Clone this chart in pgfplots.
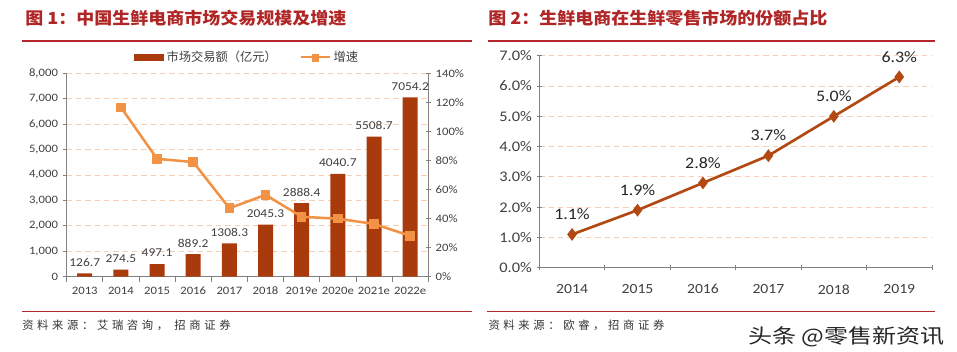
\documentclass[border=0pt]{standalone}
\usepackage{pgfplots}
\pgfplotsset{compat=1.18}
\usepackage{fontspec}
\setmainfont[FakeStretch=1.12]{Carlito}
\newfontfamily\cjk{Noto Sans CJK SC}
\newfontfamily\cjkt[FakeStretch=1.08]{Noto Sans CJK SC}
\newfontfamily\cjksrc[LetterSpace=32]{Noto Sans CJK SC}
\newfontfamily\cjkwm[FakeStretch=1.2]{Noto Sans CJK SC}
\definecolor{barcol}{RGB}{169,58,11}
\definecolor{lineor}{RGB}{241,146,68}
\definecolor{linetwo}{RGB}{178,72,18}
\definecolor{gridc}{RGB}{247,205,180}
\definecolor{titlec}{RGB}{176,38,38}
\definecolor{rulec}{RGB}{180,40,45}
\definecolor{axc}{RGB}{128,128,128}
\definecolor{txt}{RGB}{64,64,64}
\begin{document}
\begin{tikzpicture}
\useasboundingbox (0,0) rectangle (717.75pt,264pt);
% titles
\node[anchor=west, inner sep=0, text=titlec, font=\cjkt\bfseries\fontsize{12.5}{14}\selectfont] at (18.75pt,250.5pt) {图 1：中国生鲜电商市场交易规模及增速};
\node[anchor=west, inner sep=0, text=titlec, font=\cjkt\bfseries\fontsize{12.5}{14}\selectfont] at (366pt,250.5pt) {图 2：生鲜电商在生鲜零售市场的份额占比};
\draw[rulec, line width=1.2pt] (16.5pt,233.25pt) -- (354pt,233.25pt);
\draw[rulec, line width=1.2pt] (366pt,233.25pt) -- (701.25pt,233.25pt);
\draw[rulec, line width=1pt] (16.5pt,30.2pt) -- (354pt,30.2pt);
\draw[rulec, line width=1pt] (365pt,30.2pt) -- (701.25pt,30.2pt);
\node[anchor=west, inner sep=0, font=\cjksrc\fontsize{8.5}{10}\selectfont, text=black!80] at (16.5pt,20.25pt) {资料来源：艾瑞咨询， 招商证券};
\node[anchor=west, inner sep=0, font=\cjksrc\fontsize{8.5}{10}\selectfont, text=black!80] at (366.2pt,20.25pt) {资料来源：欧睿，招商证券};
\node[anchor=west, inner sep=0, font=\cjkwm\fontsize{15}{17}\selectfont, text=black!85] at (561pt,11.5pt) {头条 @零售新资讯};

% left chart: bars
\begin{axis}[
  at={(50pt,56.5pt)}, anchor=south west, scale only axis,
  width=271.2pt, height=152.55pt,
  xmin=-0.5, xmax=9.5, ymin=0, ymax=8000,
  axis x line*=bottom, axis y line*=left,
  axis line style={axc, line width=0.6pt},
  xtick={0,...,9},
  xticklabels={2013,2014,2015,2016,2017,2018,2019e,2020e,2021e,2022e},
  major x tick style={draw=none},
  minor xtick={-0.5,0.5,...,9.5},
  minor tick length=4pt, major tick length=3pt,
  tick style={axc, line width=0.6pt},
  tick align=outside,
  ytick={0,1000,...,8000},
  scaled y ticks=false,
  /pgf/number format/assume math mode=true,
  ymajorgrids,
  grid style={gridc, dash pattern=on 4pt off 3pt, line width=0.7pt},
  tick label style={font=\fontsize{8.5}{10}\selectfont, text=txt},
  xticklabel style={yshift=-1pt},
]
\addplot[ybar, bar width=11.25pt, fill=barcol, draw=none,
  nodes near coords={\pgfmathprintnumber[1000 sep={}, fixed, fixed zerofill, precision=1]{\pgfplotspointmeta}},
  nodes near coords style={font=\fontsize{9}{10}\selectfont, text=txt, inner sep=0pt, yshift=5pt}]
coordinates {(0,126.7) (1,274.5) (2,497.1) (3,889.2) (4,1308.3) (5,2045.3) (6,2888.4) (7,4040.7) (8,5508.7) (9,7054.2)};
\end{axis}

% left chart: growth line
\begin{axis}[
  at={(50pt,56.5pt)}, anchor=south west, scale only axis,
  width=271.2pt, height=152.55pt,
  xmin=-0.5, xmax=9.5, ymin=0, ymax=140,
  axis x line=none, axis y line*=right,
  axis line style={axc, line width=0.6pt},
  ytick={0,20,...,140},
  yticklabel={\pgfmathprintnumber{\tick}\%},
  tick style={axc, line width=0.6pt},
  tick align=center, major tick length=4pt,
  /pgf/number format/assume math mode=true,
  tick label style={font=\fontsize{8.5}{10}\selectfont, text=txt},
  legend style={at={(0.5,1)}, anchor=south, yshift=3pt, draw=none, fill=none,
    legend columns=2, font=\cjk\fontsize{9.2}{10}\selectfont, text=txt,
    /tikz/every even column/.append style={column sep=15pt}},
]
\addlegendimage{legend image code/.code={\fill[barcol] (0pt,-2.2pt) rectangle (22pt,2.2pt);}}
\addlegendentry{市场交易额（亿元）}
\addlegendimage{legend image code/.code={\draw[lineor, line width=1.6pt] (0pt,0pt) -- (22pt,0pt); \fill[lineor] (8.7pt,-2.6pt) rectangle (13.3pt,2.6pt);}}
\addlegendentry{增速}
\addplot[lineor, line width=1.9pt, mark=square*, mark size=2.6pt, mark options={fill=lineor, draw=lineor}, forget plot]
coordinates {(1,116.6) (2,81.1) (3,78.9) (4,47.1) (5,56.3) (6,41.2) (7,39.9) (8,36.3) (9,28.1)};
\end{axis}

% right chart
\begin{axis}[
  at={(404.5pt,63.2pt)}, anchor=south west, scale only axis,
  width=294.5pt, height=159pt,
  xmin=-0.5, xmax=5.5, ymin=0, ymax=7,
  axis x line*=bottom, axis y line*=left,
  axis line style={axc, line width=0.6pt},
  xtick={0,...,5},
  xticklabels={2014,2015,2016,2017,2018,2019},
  major x tick style={draw=none},
  minor xtick={-0.5,0.5,...,5.5},
  minor tick length=4pt, major tick length=4pt,
  tick style={axc, line width=0.6pt},
  tick align=center,
  ytick={0,1,...,7},
  yticklabel={\pgfmathprintnumber[fixed, fixed zerofill, precision=1]{\tick}\%},
  /pgf/number format/assume math mode=true,
  ymajorgrids,
  grid style={gridc, dash pattern=on 4pt off 3pt, line width=0.7pt},
  xticklabel style={font=\fontsize{10.5}{12}\selectfont, text=txt, yshift=-7pt},
  yticklabel style={font=\fontsize{11}{12}\selectfont, text=txt},
]
\addplot[linetwo, line width=2pt, mark=diamond*, mark size=3.2pt, mark options={fill=linetwo, draw=linetwo},
  nodes near coords={\pgfmathprintnumber[fixed, fixed zerofill, precision=1]{\pgfplotspointmeta}\%},
  nodes near coords style={font=\fontsize{12}{13}\selectfont, text=black!85, inner sep=0pt, anchor=south, yshift=10pt}]
coordinates {(0,1.1) (1,1.9) (2,2.8) (3,3.7) (4,5.0) (5,6.3)};
\end{axis}
\end{tikzpicture}
\end{document}
